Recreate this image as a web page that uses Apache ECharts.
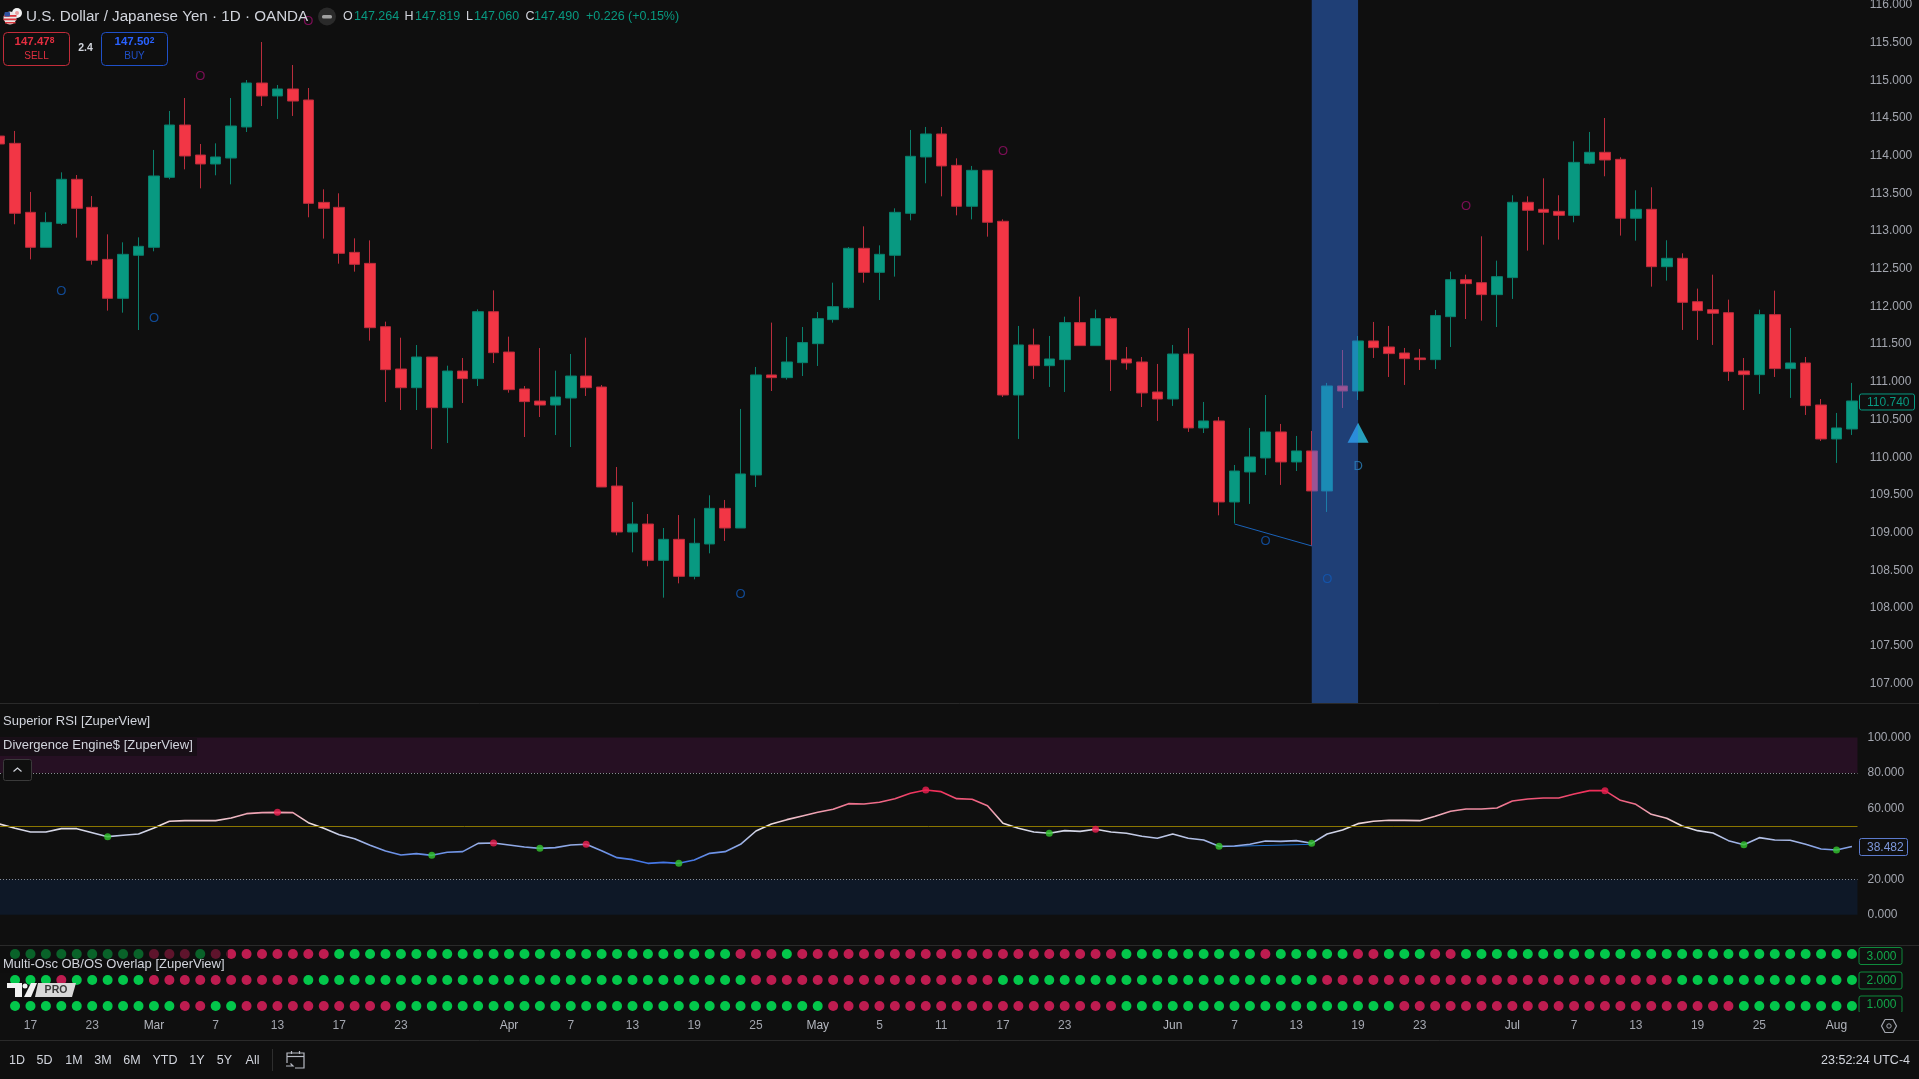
<!DOCTYPE html>
<html>
<head>
<meta charset="utf-8">
<title>USDJPY 1D</title>
<script src="https://cdn.jsdelivr.net/npm/echarts@6/dist/echarts.min.js"></script>
<style>
  html, body { margin: 0; padding: 0; background: #0f0f0f; overflow: hidden; }
  #chart { width: 1919px; height: 1079px; }
</style>
</head>
<body>
<div id="chart"></div>
<script>
// 蜡烛数据 (从图上读的)
const opens = [
  114.261, 114.164, 113.249, 112.785, 113.103, 113.687, 113.315, 112.625, 112.108, 112.679,
  112.785, 113.713, 114.407, 114.009, 113.890, 113.969, 114.381, 114.964, 114.792, 114.885,
  114.739, 113.381, 113.315, 112.718, 112.572, 111.732, 111.171, 110.923, 111.330, 110.658,
  111.144, 111.043, 111.931, 111.396, 110.906, 110.746, 110.693, 110.786, 111.078, 110.932,
  109.619, 109.009, 109.115, 108.633, 108.912, 108.421, 108.850, 109.323, 109.062, 109.765,
  111.092, 111.056, 111.255, 111.507, 111.826, 111.985, 112.772, 112.453, 112.679, 113.236,
  113.983, 114.288, 113.872, 113.329, 113.806, 113.130, 110.826, 111.490, 111.215, 111.295,
  111.786, 111.481, 111.839, 111.304, 111.264, 110.866, 110.773, 111.370, 110.389, 110.482,
  109.407, 109.805, 109.991, 110.336, 109.938, 110.084, 109.553, 110.946, 110.879, 111.543,
  111.463, 111.383, 111.317, 111.295, 111.865, 112.356, 112.316, 112.157, 112.383, 113.382,
  113.289, 113.262, 113.209, 113.899, 114.045, 113.952, 113.170, 113.289, 112.528, 112.639,
  112.064, 111.958, 111.918, 111.145, 111.096, 111.892, 111.176, 111.251, 110.694, 110.243,
  110.375
]
const closes = [
  114.155, 113.236, 112.785, 113.116, 113.687, 113.302, 112.612, 112.108, 112.692, 112.798,
  113.731, 114.407, 113.996, 113.890, 113.983, 114.394, 114.964, 114.792, 114.885, 114.725,
  113.368, 113.302, 112.705, 112.559, 111.719, 111.162, 110.923, 111.330, 110.658, 111.144,
  111.043, 111.931, 111.387, 110.897, 110.738, 110.693, 110.799, 111.078, 110.923, 109.606,
  109.009, 109.115, 108.633, 108.912, 108.421, 108.859, 109.323, 109.062, 109.779, 111.092,
  111.056, 111.264, 111.521, 111.839, 111.998, 112.772, 112.453, 112.692, 113.249, 113.992,
  114.288, 113.864, 113.329, 113.806, 113.117, 110.826, 111.490, 111.215, 111.304, 111.786,
  111.481, 111.839, 111.295, 111.251, 110.853, 110.773, 111.370, 110.389, 110.482, 109.407,
  109.818, 110.004, 110.336, 109.938, 110.084, 109.553, 110.946, 110.879, 111.543, 111.454,
  111.375, 111.308, 111.295, 111.879, 112.356, 112.303, 112.157, 112.396, 113.382, 113.276,
  113.249, 113.209, 113.912, 114.045, 113.943, 113.170, 113.289, 112.528, 112.639, 112.055,
  111.945, 111.910, 111.136, 111.096, 111.892, 111.176, 111.251, 110.685, 110.243, 110.389,
  110.747
]
const lows = [
  114.155, 113.090, 112.625, 112.785, 113.081, 112.913, 112.555, 111.945, 111.918, 111.688,
  112.732, 113.687, 113.819, 113.567, 113.740, 113.620, 114.314, 114.659, 114.487, 114.527,
  113.183, 112.900, 112.568, 112.462, 111.547, 110.733, 110.627, 110.627, 110.110, 110.189,
  110.720, 110.945, 111.250, 110.857, 110.269, 110.534, 110.295, 110.136, 110.813, 109.606,
  108.965, 108.739, 108.554, 108.138, 108.328, 108.381, 108.726, 108.890, 109.062, 109.606,
  110.879, 111.030, 111.078, 111.211, 111.786, 111.971, 112.316, 112.086, 112.396, 113.143,
  113.634, 113.461, 113.209, 113.156, 112.926, 110.800, 110.243, 111.039, 110.933, 110.866,
  111.481, 111.481, 110.879, 111.162, 110.667, 110.482, 110.681, 110.336, 110.322, 109.230,
  109.124, 109.381, 109.765, 109.633, 109.818, 108.824, 109.275, 110.654, 110.760, 111.317,
  111.065, 110.959, 111.158, 111.171, 111.463, 111.834, 111.812, 111.728, 112.100, 112.741,
  112.820, 112.887, 113.117, 113.886, 113.727, 112.940, 112.873, 112.263, 112.343, 111.689,
  111.556, 111.490, 111.012, 110.627, 110.840, 111.065, 110.787, 110.561, 110.216, 109.925,
  110.296
]
const highs = [
  114.261, 114.328, 113.519, 113.249, 113.779, 113.744, 113.465, 112.957, 112.851, 112.917,
  114.076, 114.593, 114.765, 114.155, 114.164, 114.765, 115.004, 115.508, 114.938, 115.203,
  114.898, 113.554, 113.501, 112.904, 112.877, 111.799, 111.586, 111.489, 111.330, 111.215,
  111.317, 111.962, 112.214, 111.600, 110.945, 111.449, 111.149, 111.370, 111.586, 110.959,
  109.871, 109.407, 109.248, 109.062, 109.234, 109.190, 109.496, 109.434, 110.641, 111.198,
  111.786, 111.596, 111.728, 111.927, 112.316, 112.789, 113.063, 112.811, 113.302, 114.341,
  114.381, 114.381, 113.965, 113.864, 113.806, 113.156, 111.742, 111.706, 111.609, 111.865,
  112.131, 111.958, 111.865, 111.463, 111.330, 111.238, 111.490, 111.715, 110.734, 110.535,
  109.898, 110.389, 110.826, 110.442, 110.283, 110.349, 110.986, 111.423, 111.609, 111.795,
  111.742, 111.450, 111.437, 111.954, 112.462, 112.422, 112.931, 112.608, 113.475, 113.461,
  113.700, 113.475, 114.191, 114.315, 114.500, 113.979, 113.541, 113.581, 112.878, 112.705,
  112.237, 112.422, 112.091, 111.317, 111.958, 112.210, 111.715, 111.330, 110.773, 110.588,
  110.986
]

// RSI 数值，每根K线一个
const rsiValues = [
  51.17, 48.73, 46.66, 46.66, 48.54, 48.54, 46.28, 44.03, 44.78, 45.53,
  48.91, 52.68, 53.05, 53.05, 53.05, 54.56, 57.00, 57.57, 57.75, 57.57,
  51.92, 48.73, 45.15, 42.90, 39.14, 35.94, 33.68, 34.43, 33.49, 35.19,
  35.56, 40.26, 40.45, 39.32, 38.20, 37.44, 37.82, 39.32, 39.70, 36.13,
  32.18, 31.05, 28.98, 29.54, 28.98, 30.86, 34.62, 35.56, 39.70, 47.22,
  51.17, 53.62, 55.68, 57.75, 59.45, 62.64, 62.46, 63.40, 65.46, 68.47,
  70.35, 69.41, 65.46, 65.09, 61.51, 51.55, 48.73, 46.66, 45.91, 47.41,
  47.03, 48.16, 46.66, 45.91, 44.21, 43.09, 45.53, 43.09, 42.14, 38.57,
  38.76, 39.70, 41.58, 41.39, 41.77, 40.26, 45.53, 47.79, 51.36, 52.68,
  53.24, 53.24, 53.05, 55.50, 58.32, 59.63, 59.63, 60.20, 64.15, 65.28,
  65.84, 65.84, 68.10, 69.98, 69.98, 64.52, 62.27, 56.63, 54.37, 50.04,
  47.41, 46.09, 41.77, 39.51, 43.46, 42.14, 41.96, 39.70, 37.07, 36.50,
  38.48
]
const rsiGreenIdx = [7, 28, 35, 44, 68, 79, 85, 113, 119]
const rsiRedIdx = [0, 18, 32, 38, 60, 71, 104]
const rsiDivergence = [[79, 38.4], [85, 39.7]]

// OB/OS 三排圆点，G=绿 R=红
const rowTop =
  'GGGGGGGGGG' + 'RRR' + 'G' + 'RRRRRRRR' + 'GGGGGGGGGGGGGGGGGGGGGGGGGG' + 'RRR' + 'G' +
  'RRRRRRRRRRRRRRRRRRRRR' + 'GGGGGGGGG' + 'R' + 'GGGGG' + 'RR' + 'GGG' + 'RR' + 'GGGGGGGGGGGGGGGGGGGGGGGGGG'
const rowMid =
  'R' + 'GGG' + 'R' + 'GGGGG' + 'RRRRRRRRRR' + 'GGGGGGGGGGGGGGGGGGGGGGGGGGGGG' + 'RRRRRRRRRRRRRRRR' +
  'GGGGGGGGGGGGGGGGGGGGG' + 'RRRRRRRRRRRRRRRRRRRRRRR' + 'GGGGGGGGGGGG'
const rowBot =
  'GGGGGGGGGGGG' + 'RR' + 'GG' + 'RRRRRRRRRR' + 'GGGGGGGGGGGGGGGGGGGGGGGGGGGG' + 'RRRRRRRRRRRRRRRRRRR' +
  'GGGGGGGGGGGGGGGGGG' + 'RRRRRRRRRRRRRRRRRRRRRR' + 'GGGGGGGG'

// 坐标轴标签
const priceTicks = [107, 107.5, 108, 108.5, 109, 109.5, 110, 110.5, 111, 111.5, 112, 112.5, 113, 113.5, 114, 114.5, 115, 115.5, 116]
const rsiTicks = [0, 20, 60, 80, 100]
const dateTickIdx = [2, 6, 10, 14, 18, 22, 26, 33, 37, 41, 45, 49, 53, 57, 61, 65, 69, 76, 80, 84, 88, 92, 98, 102, 106, 110, 114, 119]
const dateTickLabels = ['17', '23', 'Mar', '7', '13', '17', '23', 'Apr', '7', '13', '19', '25', 'May', '5', '11', '17', '23', 'Jun', '7', '13', '19', '23', 'Jul', '7', '13', '19', '25', 'Aug']
const monthLabels = ['Mar', 'Apr', 'May', 'Jun', 'Jul', 'Aug']

// 图上的 O / D 记号和信号
const highMarkers = [[13, 115.048], [20, 115.777], [65, 114.053], [95, 113.324]]
const lowMarkers = [[4, 112.206], [10, 111.847], [48, 108.187], [82, 108.881], [86, 108.386]]
const dMarker = [[88, 109.875]]
const signalUp = [[88, 110.326]]
const priceDivergence = [[80, 109.115], [85, 108.824]]
const lastPrice = 110.74
const lastRsi = 38.482

const PRICE_MIN = 106.741
const PRICE_MAX = 116.065
const RSI_MIN = -17.38
const RSI_MAX = 119.15
const IDX_MIN = 0.026
const IDX_MAX = 120.36

const UP = '#089981'
const DOWN = '#f23645'
const TEXT = '#d1d4dc'
const AXIS_TEXT = '#a3a6af'
const FONT = '"Liberation Sans", Arial, sans-serif'

const categories = opens.map((_, i) => i)
const candleData = opens.map((o, i) => [o, closes[i], lows[i], highs[i]])
const rsiData = rsiValues.map((v, i) => [i, v])
const dotData = (row, level) => row.split('').map((c, i) => ({
  value: [i, level],
  itemStyle: { color: c === 'G' ? '#00f55a' : '#ea1f60' }
}))

const chart = echarts.init(document.getElementById('chart'))

const xBase = { axisLine: { show: false }, axisTick: { show: false }, splitLine: { show: false } }
const yBase = {
  type: 'value',
  position: 'right',
  scale: true,
  axisLine: { show: false },
  axisTick: { show: false },
  splitLine: { show: false }
}
const axisLabelStyle = { color: AXIS_TEXT, fontSize: 12, fontFamily: FONT, align: 'left', margin: 10 }

const textMarks = (data, text, color, xi, yi) => ({
  type: 'scatter',
  xAxisIndex: xi,
  yAxisIndex: yi,
  data,
  symbolSize: 1,
  itemStyle: { color: 'transparent' },
  z: 10,
  silent: true,
  label: {
    show: true,
    position: 'inside',
    formatter: text,
    color,
    fontSize: 13,
    fontFamily: FONT
  }
})

const option = {
  animation: false,
  backgroundColor: '#0f0f0f',
  textStyle: { fontFamily: FONT },
  grid: [
    { left: -8.12, top: 0, width: 1867.9, height: 703, outerBoundsMode: 'none' },
    { left: 0, top: 703.5, width: 1857.5, height: 242, outerBoundsMode: 'none' },
    { left: 0, top: 946, width: 1857.5, height: 66, outerBoundsMode: 'none' }
  ],
  xAxis: [
    { type: 'category', gridIndex: 0, data: categories, boundaryGap: true, axisLabel: { show: false }, ...xBase },
    { type: 'value', gridIndex: 1, min: IDX_MIN, max: IDX_MAX, axisLabel: { show: false }, ...xBase },
    {
      type: 'value',
      gridIndex: 2,
      min: IDX_MIN,
      max: IDX_MAX,
      ...xBase,
      axisLabel: {
        customValues: dateTickIdx,
        margin: 8,
        color: AXIS_TEXT,
        fontSize: 12,
        fontFamily: FONT,
        formatter: v => {
          const label = dateTickLabels[dateTickIdx.indexOf(v)]
          return monthLabels.includes(label) ? `{m|${label}}` : label
        },
        rich: { m: { color: '#b4b7bf', fontSize: 12, fontFamily: FONT } }
      }
    }
  ],
  yAxis: [
    {
      ...yBase,
      gridIndex: 0,
      min: PRICE_MIN,
      max: PRICE_MAX,
      axisLabel: { ...axisLabelStyle, customValues: priceTicks, padding: [1, 0, 0, 0], formatter: v => v.toFixed(3) }
    },
    {
      ...yBase,
      gridIndex: 1,
      min: RSI_MIN,
      max: RSI_MAX,
      axisLabel: { ...axisLabelStyle, customValues: rsiTicks, padding: [2, 0, 0, 0], formatter: v => v.toFixed(3) }
    },
    { ...yBase, gridIndex: 2, min: 0.769, max: 3.308, axisLabel: { show: false } }
  ],
  visualMap: {
    show: false,
    type: 'continuous',
    seriesIndex: 6,
    dimension: 1,
    min: 30,
    max: 70,
    inRange: { color: ['#4477e6', '#ece6e6', '#f02c58'] }
  },
  series: [
    {
      type: 'candlestick',
      xAxisIndex: 0,
      yAxisIndex: 0,
      data: candleData,
      barWidth: 11,
      z: 2,
      itemStyle: { color: UP, color0: DOWN, borderColor: '#0a7f6c', borderColor0: '#b92d3c', borderWidth: 1 }
    },
    {
      // 蓝色高亮柱，盖在蜡烛上面
      type: 'line',
      xAxisIndex: 0,
      yAxisIndex: 0,
      data: [],
      z: 5,
      silent: true,
      markArea: {
        z: 5,
        silent: true,
        itemStyle: { color: 'rgba(50,121,244,0.45)' },
        data: [[{ xAxis: 85, yAxis: PRICE_MIN }, { xAxis: 88, yAxis: PRICE_MAX }]]
      }
    },
    {
      type: 'line',
      xAxisIndex: 0,
      yAxisIndex: 0,
      data: priceDivergence,
      symbol: 'none',
      z: 6,
      silent: true,
      lineStyle: { color: '#1a62b8', width: 1 }
    },
    textMarks(highMarkers, 'O', '#960e66', 0, 0),
    textMarks(lowMarkers, 'O', '#1259b5', 0, 0),
    textMarks(dMarker, 'D', '#2a80bd', 0, 0),
    {
      type: 'line',
      xAxisIndex: 1,
      yAxisIndex: 1,
      data: rsiData,
      symbol: 'none',
      z: 4,
      silent: true,
      lineStyle: { width: 1.6 },
      markArea: {
        silent: true,
        data: [
          [{ yAxis: 80, itemStyle: { color: '#261023' } }, { yAxis: 100 }],
          [{ yAxis: 0, itemStyle: { color: '#0e1827' } }, { yAxis: 20 }]
        ]
      },
      markLine: {
        silent: true,
        symbol: 'none',
        label: { show: false },
        data: [
          { yAxis: 80, lineStyle: { color: '#8a8c93', type: [1, 2], width: 1 } },
          { yAxis: 20, lineStyle: { color: '#8a8c93', type: [1, 2], width: 1 } },
          { yAxis: 50, lineStyle: { color: '#8a7600', type: 'solid', width: 1 } }
        ]
      }
    },
    {
      type: 'line',
      xAxisIndex: 1,
      yAxisIndex: 1,
      data: rsiDivergence,
      symbol: 'none',
      z: 3,
      silent: true,
      lineStyle: { color: '#1e6fd0', width: 1 }
    },
    {
      type: 'scatter',
      xAxisIndex: 1,
      yAxisIndex: 1,
      data: rsiGreenIdx.map(i => [i, rsiValues[i]]),
      symbolSize: 7,
      z: 5,
      itemStyle: { color: '#33c52e' }
    },
    {
      type: 'scatter',
      xAxisIndex: 1,
      yAxisIndex: 1,
      data: rsiRedIdx.map(i => [i, rsiValues[i]]),
      symbolSize: 7,
      z: 5,
      itemStyle: { color: '#ee1f50' }
    },
    { type: 'scatter', xAxisIndex: 2, yAxisIndex: 2, data: dotData(rowTop, 3), symbolSize: 10, z: 4 },
    { type: 'scatter', xAxisIndex: 2, yAxisIndex: 2, data: dotData(rowMid, 2), symbolSize: 10, z: 4 },
    { type: 'scatter', xAxisIndex: 2, yAxisIndex: 2, data: dotData(rowBot, 1), symbolSize: 10, z: 4 },
    {
      type: 'scatter',
      xAxisIndex: 0,
      yAxisIndex: 0,
      data: signalUp,
      symbol: 'triangle',
      symbolSize: [21, 20],
      z: 11,
      silent: true,
      itemStyle: {
        color: {
          type: 'linear', x: 0, y: 0, x2: 1, y2: 0,
          colorStops: [
            { offset: 0, color: '#2ea0f2' },
            { offset: 0.5, color: '#2ea0f2' },
            { offset: 0.5, color: '#2cc3e6' },
            { offset: 1, color: '#2cc3e6' }
          ]
        }
      }
    }
  ]
}

chart.setOption(option)

// 下面是 TradingView 的界面文字和图标
const T = (x, y, text, color, size, extra = {}) => ({
  type: 'text',
  x,
  y,
  z: extra.z || 100,
  silent: true,
  style: {
    text,
    fill: color,
    fontSize: size,
    fontFamily: FONT,
    textVerticalAlign: 'middle',
    textAlign: extra.align || 'left',
    fontWeight: extra.weight || 'normal',
    rich: extra.rich
  }
})
const R = (x, y, width, height, fill, stroke, r = 0, z = 99) => ({
  type: 'rect',
  z,
  silent: true,
  shape: { x, y, width, height, r },
  style: { fill: fill || 'none', stroke: stroke || 'none', lineWidth: 1 }
})
const L = (x1, y1, x2, y2, color) => ({
  type: 'line',
  z: 99,
  silent: true,
  shape: { x1, y1, x2, y2 },
  style: { stroke: color, lineWidth: 1 }
})
const P = (points, fill) => ({
  type: 'polygon',
  z: 101,
  silent: true,
  shape: { points },
  style: { fill }
})
const C = (cx, cy, r, fill, stroke, z = 100) => ({
  type: 'circle',
  z,
  silent: true,
  shape: { cx, cy, r },
  style: { fill: fill || 'none', stroke: stroke || 'none', lineWidth: 1 }
})
const polyline = (points, color) => ({
  type: 'polyline',
  z: 101,
  silent: true,
  shape: { points },
  style: { stroke: color, fill: 'none', lineWidth: 1.2 }
})

const tag = (x, w, yc, h, text, color, border) => [
  R(x + 0.5, yc - h / 2 + 0.5, w, h, '#0f0f0f', border, 2),
  T(x + 8, yc + 1, text, color, 12)
]

// 蓝/红报价框里的小上标
const quoteRich = color => ({
  a: { fill: color, fontSize: 11.5, fontWeight: 'bold', fontFamily: FONT },
  b: { fill: color, fontSize: 8.5, fontWeight: 'bold', fontFamily: FONT, verticalAlign: 'top' }
})

const lastPriceY = chart.convertToPixel({ yAxisIndex: 0 }, lastPrice)
const lastRsiY = chart.convertToPixel({ yAxisIndex: 1 }, lastRsi)
const rowY = [3, 2, 1].map(v => chart.convertToPixel({ yAxisIndex: 2 }, v))

const graphics = [
  // 分隔线
  L(0, 703.5, 1919, 703.5, '#2a2a2a'),
  L(0, 945.5, 1919, 945.5, '#2a2a2a'),
  L(0, 1040.5, 1919, 1040.5, '#2a2a2a'),

  // 标题行
  C(17, 13, 5, '#f2f2f2', null),
  C(17, 13, 2, '#e8a0a0', null),
  C(10, 18, 6.5, '#e8e8e8', null),
  R(4, 15, 12.5, 1.8, '#d8363c', null, 0, 100),
  R(3.5, 18.5, 13, 1.8, '#d8363c', null, 0, 100),
  R(5, 22, 10.5, 1.5, '#d8363c', null, 0, 100),
  R(4.5, 12, 5.5, 4.5, '#2d4f9e', null, 1, 101),
  T(26, 17, 'U.S. Dollar / Japanese Yen · 1D · OANDA', TEXT, 15.2),
  C(327, 16.5, 9, '#2a2a2a', null),
  R(322, 15, 10, 3.5, '#a0a0a0', null, 1.5, 101),
  T(343, 17, 'O', TEXT, 12.5),
  T(354, 17, '147.264', UP, 12.5),
  T(404.5, 17, 'H', TEXT, 12.5),
  T(415, 17, '147.819', UP, 12.5),
  T(466, 17, 'L', TEXT, 12.5),
  T(474, 17, '147.060', UP, 12.5),
  T(525.5, 17, 'C', TEXT, 12.5),
  T(534, 17, '147.490', UP, 12.5),
  T(586, 17, '+0.226 (+0.15%)', UP, 12.5),

  // 买卖按钮
  R(3.5, 32.5, 66, 33, '#0f0f0f', '#c22c3a', 4),
  T(34.5, 42, '{a|147.47}{b|8}', DOWN, 11.5, { align: 'center', rich: quoteRich('#e52e40') }),
  T(36.5, 56.5, 'SELL', '#e02f40', 10, { align: 'center' }),
  T(85.5, 48.5, '2.4', TEXT, 10.5, { align: 'center', weight: 'bold' }),
  R(101.5, 32.5, 66, 33, '#0f0f0f', '#1f50c8', 4),
  T(134.5, 42, '{a|147.50}{b|2}', '#2962ff', 11.5, { align: 'center', rich: quoteRich('#2962ff') }),
  T(134.5, 56.5, 'BUY', '#1f4fc8', 10, { align: 'center' }),

  // 副图图例
  T(3, 721, 'Superior RSI [ZuperView]', TEXT, 13),
  R(0, 738, 197, 18, 'rgba(15,15,15,0.6)', null),
  T(3, 745, 'Divergence Engine$ [ZuperView]', TEXT, 13),
  R(3.5, 759.5, 28, 21, '#0f0f0f', '#3a3a3a', 2),
  polyline([[13.5, 771.5], [17.5, 768], [21.5, 771.5]], '#d1d4dc'),
  R(0, 946, 228, 27, 'rgba(15,15,15,0.55)', null),
  T(3, 964, 'Multi-Osc OB/OS Overlap [ZuperView]', TEXT, 13),

  // 价格标签
  ...tag(1859, 55, lastPriceY, 16, '110.740', UP, UP),
  ...tag(1859, 48, lastRsiY, 17, '38.482', '#7d97da', '#5d7ccf'),
  ...tag(1858.5, 43, rowY[0] + 1.5, 17, '3.000', '#12a84a', '#0e8a3c'),
  ...tag(1858.5, 43, rowY[1], 17, '2.000', '#12a84a', '#0e8a3c'),
  ...tag(1858.5, 43, rowY[2] - 2, 17, '1.000', '#12a84a', '#0e8a3c'),
  R(1855, 1012, 60, 7, '#0f0f0f', null, 0, 100),

  // TV PRO 标志
  P([[7, 983], [22, 983], [22, 997], [15, 997], [15, 988], [7, 988]], '#f2f2f2'),
  C(25, 986, 2.5, '#f2f2f2', null, 101),
  P([[31, 983], [37, 983], [31, 997], [24, 997]], '#f2f2f2'),
  P([[38, 983], [76, 983], [72, 997], [35, 997]], '#d8d8d8'),
  T(56, 990.5, 'PRO', '#3a3a3a', 10.5, { align: 'center', weight: 'bold', z: 102 }),

  // 底部工具栏
  T(17, 1061, '1D', TEXT, 12.5, { align: 'center' }),
  T(44.5, 1061, '5D', TEXT, 12.5, { align: 'center' }),
  T(74, 1061, '1M', TEXT, 12.5, { align: 'center' }),
  T(103, 1061, '3M', TEXT, 12.5, { align: 'center' }),
  T(132, 1061, '6M', TEXT, 12.5, { align: 'center' }),
  T(165, 1061, 'YTD', TEXT, 12.5, { align: 'center' }),
  T(197, 1061, '1Y', TEXT, 12.5, { align: 'center' }),
  T(224.5, 1061, '5Y', TEXT, 12.5, { align: 'center' }),
  T(252.5, 1061, 'All', TEXT, 12.5, { align: 'center' }),
  L(272.5, 1049, 272.5, 1071, '#2e2e2e'),
  polyline([[287, 1063], [287, 1053], [304, 1053], [304, 1068], [295, 1068]], '#b8bbc4'),
  polyline([[287, 1056.5], [304, 1056.5]], '#b8bbc4'),
  polyline([[291.5, 1051], [291.5, 1054]], '#b8bbc4'),
  polyline([[299.5, 1051], [299.5, 1054]], '#b8bbc4'),
  polyline([[286, 1066], [293, 1066], [290.5, 1063.5]], '#b8bbc4'),
  T(1910, 1061, '23:52:24 UTC-4', TEXT, 12.5, { align: 'right' }),

  // 设置图标
  polyline([[1885, 1019.5], [1893, 1019.5], [1896.5, 1026], [1893, 1032.5], [1885, 1032.5], [1881.5, 1026], [1885, 1019.5]], '#a3a6af'),
  C(1889, 1026, 2.2, null, '#a3a6af', 101)
]

chart.setOption({ graphic: { elements: graphics } })

window.addEventListener('resize', () => {
  chart.resize()
})
</script>
</body>
</html>
